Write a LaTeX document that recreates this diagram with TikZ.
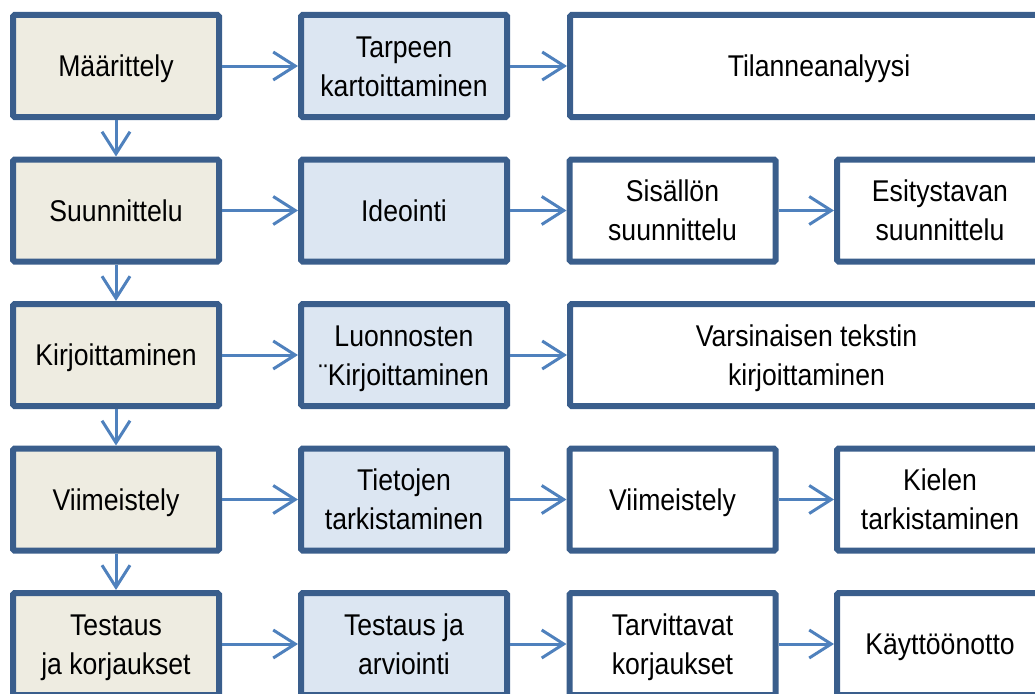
\documentclass[tikz,border=0pt]{standalone}
\usepackage{fontspec}
\setmainfont{Liberation Sans}[FakeStretch=0.887]
\usetikzlibrary{arrows.meta}
\definecolor{bordc}{HTML}{3A5E8C}
\definecolor{tanfill}{HTML}{EEECE1}
\definecolor{bluefill}{HTML}{DCE6F2}
\definecolor{arrc}{HTML}{4F81BD}
\tikzset{
  box/.style={draw=bordc, line width=6pt, fill=white, rounded corners=1.5pt,
    minimum width=206pt, minimum height=102pt, inner sep=0pt,
    align=center, font=\fontsize{30pt}{39pt}\selectfont, text=black,
    text height=21.5pt, text depth=0pt},
  two/.style={text height=60.5pt, text depth=0pt},
  phase/.style={box, fill=tanfill},
  task/.style={box, fill=bluefill},
  wide/.style={box, minimum width=473pt},
  conn/.style={draw=arrc, line width=3pt, -{Straight Barb[length=22pt,width=28pt,line width=3pt]}}
}
\begin{document}
\begin{tikzpicture}[x=1pt,y=-1pt]
\useasboundingbox (0,0) rectangle (1035,693);
\clip (0,0) rectangle (1035,693);
% row 1
\node[phase] (p1) at (116,66) {Määrittely};
\node[task, two] (t1) at (404,66) {Tarpeen\\kartoittaminen};
\node[wide, minimum width=498pt] (w1) at (819,66) {Tilanneanalyysi};
% row 2
\node[phase] (p2) at (116,210.5) {Suunnittelu};
\node[task] (t2) at (404,210.5) {Ideointi};
\node[box, two] (a2) at (672.5,210.5) {Sisällön\\suunnittelu};
\node[box, two] (b2) at (940,210.5) {Esitystavan\\suunnittelu};
% row 3
\node[phase] (p3) at (116,355) {Kirjoittaminen};
\node[task, two] (t3) at (404,355) {Luonnosten\\¨Kirjoittaminen};
\node[wide, two] (w3) at (806.5,355) {Varsinaisen tekstin\\kirjoittaminen};
% row 4
\node[phase] (p4) at (116,499.5) {Viimeistely};
\node[task, two] (t4) at (404,499.5) {Tietojen\\tarkistaminen};
\node[box] (a4) at (672.5,499.5) {Viimeistely};
\node[box, two] (b4) at (940,499.5) {Kielen\\tarkistaminen};
% row 5
\node[phase, two] (p5) at (116,644) {Testaus\\ja korjaukset};
\node[task, two] (t5) at (404,644) {Testaus ja\\arviointi};
\node[box, two] (a5) at (672.5,644) {Tarvittavat\\korjaukset};
\node[box] (b5) at (940,644) {Käyttöönotto};
% connectors
\draw[conn] (p1) -- (t1);
\draw[conn] (t1) -- (w1);
\draw[conn] (p2) -- (t2);
\draw[conn] (t2) -- (a2);
\draw[conn] (a2) -- (b2);
\draw[conn] (p3) -- (t3);
\draw[conn] (t3) -- (w3);
\draw[conn] (p4) -- (t4);
\draw[conn] (t4) -- (a4);
\draw[conn] (a4) -- (b4);
\draw[conn] (p5) -- (t5);
\draw[conn] (t5) -- (a5);
\draw[conn] (a5) -- (b5);
\draw[conn] (p1) -- (p2);
\draw[conn] (p2) -- (p3);
\draw[conn] (p3) -- (p4);
\draw[conn] (p4) -- (p5);
\end{tikzpicture}
\end{document}
